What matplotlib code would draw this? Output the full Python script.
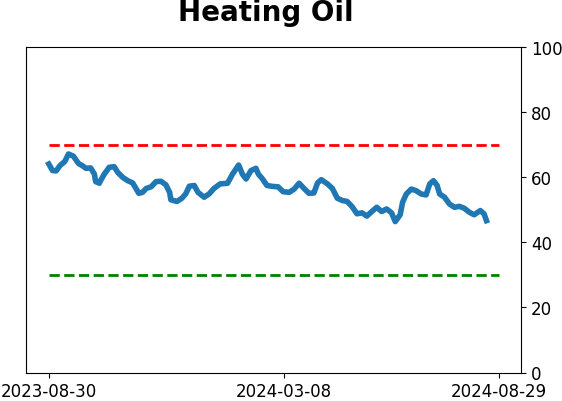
import matplotlib
matplotlib.use("Agg")
import matplotlib.pyplot as plt
import numpy as np
import pandas as pd

title = "Heating Oil"
start_date = "2023-08-30"
end_date = "2024-08-29"
tick_labels = ["2023-08-30", "2024-03-08", "2024-08-29"]
upper_level = 70
lower_level = 30

day_offsets = [0, 3, 6, 9, 13, 16, 20, 24, 28, 30, 34, 37, 38, 41, 42, 45, 49, 53, 56, 60,
               64, 68, 71, 73, 76, 79, 83, 87, 91, 95, 98, 99, 104, 108, 111, 114, 118, 121,
               126, 130, 134, 139, 145, 149, 154, 157, 160, 164, 168, 170, 173, 177, 182, 186,
               190, 195, 199, 203, 207, 211, 215, 218, 221, 226, 230, 234, 238, 242, 246, 250,
               254, 258, 262, 266, 270, 274, 278, 281, 285, 287, 290, 294, 298, 302, 306, 309,
               312, 315, 317, 321, 325, 329, 333, 337, 341, 345, 350, 353, 355]
values = [64.1, 62.1, 62.0, 63.6, 64.9, 67.2, 66.5, 64.3, 63.4, 62.8, 62.9, 61.0, 58.7, 58.2,
          59.0, 61.0, 63.1, 63.3, 61.5, 60.0, 59.0, 58.3, 56.4, 55.1, 55.4, 56.6, 57.1, 58.7,
          58.8, 57.7, 55.4, 53.1, 52.6, 53.6, 54.9, 57.3, 57.5, 55.4, 53.9, 54.9, 56.6, 58.0,
          58.2, 61.0, 63.8, 61.0, 59.5, 62.1, 62.8, 61.0, 59.7, 57.5, 57.2, 57.1, 55.6, 55.4,
          56.4, 58.2, 56.6, 55.1, 55.2, 58.3, 59.3, 58.0, 56.6, 53.6, 52.9, 52.6, 51.0, 48.8,
          49.1, 48.1, 49.5, 50.8, 49.5, 50.3, 49.1, 46.4, 48.5, 52.4, 54.9, 56.4, 55.9, 54.9,
          54.6, 58.0, 59.0, 57.5, 54.9, 53.9, 51.8, 50.8, 51.1, 50.5, 49.3, 48.5, 49.8, 48.8,
          46.7]

dates = pd.Timestamp(start_date) + pd.to_timedelta(day_offsets, unit="D")
span = [pd.Timestamp(start_date), pd.Timestamp(end_date)]

fig = plt.figure(figsize=(5.62, 4.02), dpi=100)
ax = fig.add_axes([26.3 / 562, 1 - 373.5 / 402, (521.3 - 26.3) / 562, (373.5 - 48.3) / 402])

ax.plot(dates, values, color="#1f77b4", lw=4)
ax.plot(span, [upper_level, upper_level], color="red", ls="--", lw=2)
ax.plot(span, [lower_level, lower_level], color="green", ls="--", lw=2)

ax.set_ylim(0, 100)
ax.yaxis.tick_right()
ax.set_yticks([0, 20, 40, 60, 80, 100])
ax.set_xticks([pd.Timestamp(t) for t in tick_labels])
ax.set_xticklabels(tick_labels)
ax.tick_params(labelsize=12)

fig.text(266 / 562, 1 - 13 / 402, title, ha="center", va="center", fontsize=20, fontweight="bold")

fig.savefig("out.png", dpi=100)
